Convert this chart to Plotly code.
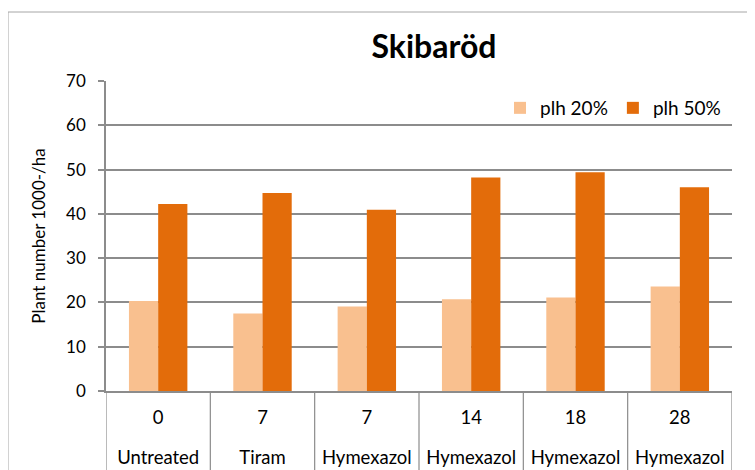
import plotly.graph_objects as go

doses = ["0", "7", "7", "14", "18", "28"]
treatments = ["Untreated", "Tiram", "Hymexazol", "Hymexazol", "Hymexazol", "Hymexazol"]
plh20 = [20.3, 17.5, 19.1, 20.7, 21.1, 23.6]
plh50 = [42.2, 44.7, 40.9, 48.2, 49.4, 46.0]
y_ticks = [0, 10, 20, 30, 40, 50, 60, 70]

idx = list(range(len(doses)))
SP = "<span style='font-size:18.5px'>{}</span>"
ticktext = [SP.format(d) + "<br><br>" + SP.format(t) for d, t in zip(doses, treatments)]

FONT = "Lato, 'Open Sans', sans-serif"
fig = go.Figure()
fig.add_trace(go.Bar(x=idx, y=plh20, name="plh 20%", marker=dict(color="#F9C08F", line=dict(width=0))))
fig.add_trace(go.Bar(x=idx, y=plh50, name="plh 50%", marker=dict(color="#E36C0A", line=dict(width=0))))

# page has an 8px body margin; figure coords = page coords - 8
OFF = 8
W, H = 755, 470
L, T = 106 - OFF, 81 - OFF
R, B = W - (732 - OFF), H - (391 - OFF)
PW, PH = W - L - R, H - T - B

shapes = []
# category dividers below the axis
for i in range(len(doses) + 1):
    shapes.append(dict(type="line", xref="x", yref="paper", x0=i - 0.5, x1=i - 0.5,
                       y0=0, y1=-0.4, line=dict(color="#8c8c8c", width=1.2)))
# outer chart frame
shapes.append(dict(type="rect", xref="paper", yref="paper", x0=(8 - OFF - L) / PW, x1=1.3,
                   y0=-0.6, y1=(T + PH - (12 - OFF)) / PH, line=dict(color="#a6a6a6", width=1), layer="below"))

fig.update_layout(
    width=W, height=H,
    margin=dict(l=L, r=R, t=T, b=B, autoexpand=False),
    plot_bgcolor="white", paper_bgcolor="white",
    barmode="group", bargap=0.44, bargroupgap=0,
    font=dict(family=FONT, size=14, color="#000000"),
    title=dict(text="<b>Skibaröd</b>", x=(434 - OFF) / W, xanchor="center", y=1 - (47 - OFF) / H, yanchor="middle",
               font=dict(size=32, family=FONT, color="#000000")),
    legend=dict(orientation="h", x=(500 - OFF - L) / PW, xanchor="left", y=(T + PH - (108 - OFF)) / PH,
                yanchor="middle", font=dict(size=19), bgcolor="rgba(0,0,0,0)", itemwidth=30,
                traceorder="normal"),
    shapes=shapes,
    xaxis=dict(range=[-0.5, len(doses) - 0.5], tickmode="array", tickvals=idx, ticktext=ticktext,
               showgrid=False, showline=True, linecolor="#8c8c8c", linewidth=1.5, ticks="",
               tickfont=dict(size=15.4), zeroline=False, automargin=False, ticklabelstandoff=13),
    yaxis=dict(range=[0, 70], tickmode="array", tickvals=y_ticks, showgrid=True,
               gridcolor="#8c8c8c", gridwidth=1.5, showline=True, linecolor="#8c8c8c", linewidth=1.5,
               ticks="outside", ticklen=6, tickcolor="#8c8c8c", tickwidth=1.5, zeroline=False,
               tickfont=dict(size=17), automargin=False, ticklabelstandoff=9,
               title=dict(text="Plant number 1000-/ha", font=dict(size=17), standoff=16)),
)
fig.update_xaxes(layer="above traces")
fig.write_html("out.html")
